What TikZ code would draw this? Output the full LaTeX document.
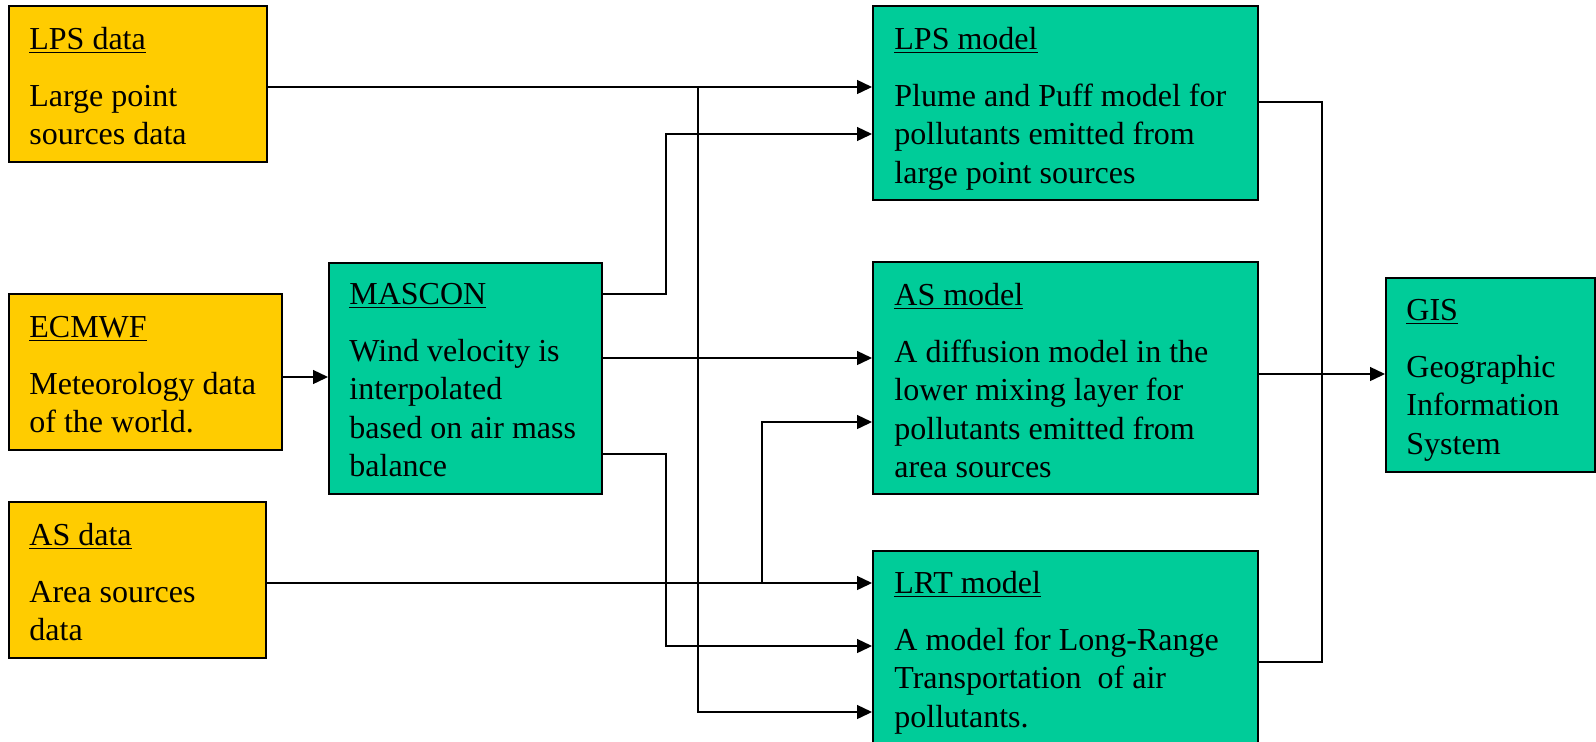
\documentclass[tikz,border=0pt]{standalone}
\usepackage{fontspec}
\setmainfont{Liberation Serif}
\usetikzlibrary{arrows.meta,fit,calc}
\definecolor{datafill}{HTML}{FFCC00}
\definecolor{modelfill}{HTML}{00CC99}
\tikzset{
  databox/.style={draw=black, line width=1pt, fill=datafill, inner sep=0pt},
  modelbox/.style={draw=black, line width=1pt, fill=modelfill, inner sep=0pt},
  boxtext/.style={anchor=base west, inner sep=0pt, text width=190pt, align=flush left,
    font=\fontsize{16}{19.2}\selectfont},
  conn/.style={draw=black, line width=0.7pt},
  flow/.style={conn, -{Triangle[length=7.5pt,width=7pt]}},
}
\begin{document}
\begin{tikzpicture}[x=0.5pt,y=-0.5pt]
\useasboundingbox (0,0) rectangle (1596,741);
\clip (0,0) rectangle (1596,741);

% input data sources
\node[databox, fit={(9,6) (267,162)}] (lpsd) {};
\node[databox, fit={(9,294) (282,450)}] (ecmwf) {};
\node[databox, fit={(9,502) (266,658)}] (asd) {};

% processing models
\node[modelbox, fit={(329,263) (602,494)}] (mascon) {};
\node[modelbox, fit={(873,6) (1258,200)}] (lpsm) {};
\node[modelbox, fit={(873,262) (1258,494)}] (asm) {};
\node[modelbox, fit={(873,551) (1258,770)}] (lrtm) {};
\node[modelbox, fit={(1386,278) (1595,472)}] (gis) {};

% box texts
\node[boxtext] (lpsd-t) at ($(lpsd.north west)+(21,44)$)
  {\underline{LPS data}\\[9.5pt]Large point\\sources data};
\node[boxtext] (ecmwf-t) at ($(ecmwf.north west)+(21,44)$)
  {\underline{ECMWF}\\[9.5pt]Meteorology data\\of the world.};
\node[boxtext] (asd-t) at ($(asd.north west)+(21,44)$)
  {\underline{AS data}\\[9.5pt]Area sources\\data};
\node[boxtext] (mascon-t) at ($(mascon.north west)+(21,42)$)
  {\underline{MASCON}\\[9.5pt]Wind velocity is\\interpolated\\based on air mass\\balance};
\node[boxtext] (lpsm-t) at ($(lpsm.north west)+(22,44)$)
  {\underline{LPS model}\\[9.5pt]Plume and Puff model for\\pollutants emitted from\\large point sources};
\node[boxtext] (asm-t) at ($(asm.north west)+(22,44)$)
  {\underline{AS model}\\[9.5pt]A diffusion model in the\\lower mixing layer for\\pollutants emitted from\\area sources};
\node[boxtext] (lrtm-t) at ($(lrtm.north west)+(22,43)$)
  {\underline{LRT model}\\[9.5pt]A model for Long-Range\\Transportation~ of air\\pollutants.};
\node[boxtext] (gis-t) at ($(gis.north west)+(21,43)$)
  {\underline{GIS}\\[9.5pt]Geographic\\Information\\System};

% branch points of the wiring
\coordinate (tapL) at (698,87);
\coordinate (tapA) at (762,583);

% connectors
\draw[flow] (lpsd.east |- 0,87) -- (lpsm.west |- 0,87);
\draw[flow] (tapL) -- (698,712) -- (lrtm.west |- 0,712);
\draw[flow] (ecmwf.east |- 0,377) -- (mascon.west |- 0,377);
\draw[flow] (mascon.east |- 0,294) -- (666,294) -- (666,134) -- (lpsm.west |- 0,134);
\draw[flow] (mascon.east |- 0,358) -- (asm.west |- 0,358);
\draw[flow] (mascon.east |- 0,454) -- (666,454) -- (666,646) -- (lrtm.west |- 0,646);
\draw[conn] (asd.east |- 0,583) -- (tapA);
\draw[flow] (tapA) -- (762,422) -- (asm.west |- 0,422);
\draw[flow] (tapA) -- (lrtm.west |- 0,583);
\draw[conn] (lpsm.east |- 0,102) -- (1322,102) -- (1322,662) -- (lrtm.east |- 0,662);
\draw[flow] (asm.east |- 0,374) -- (gis.west |- 0,374);
\end{tikzpicture}
\end{document}
